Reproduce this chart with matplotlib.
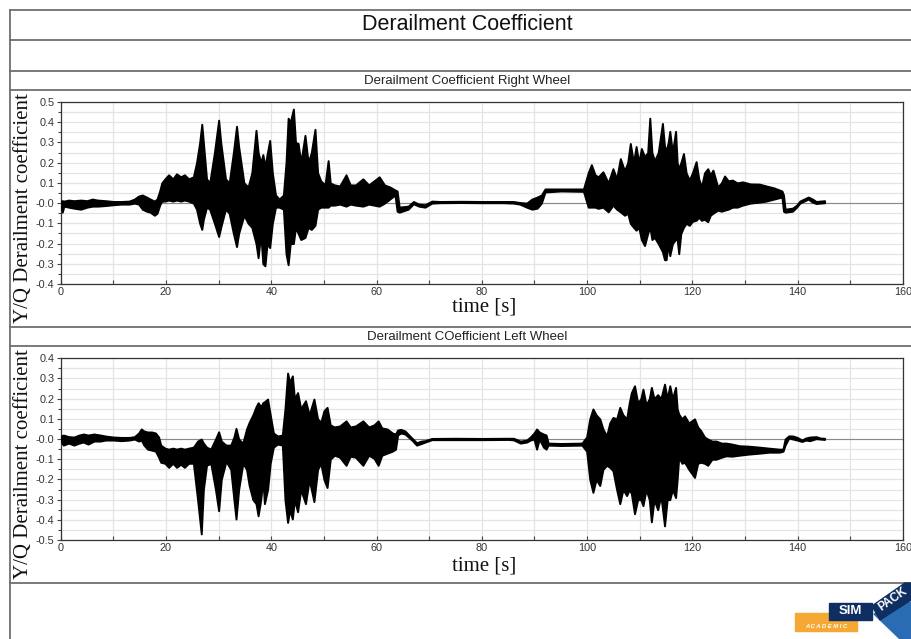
import numpy as np
import matplotlib
matplotlib.use("Agg")
import matplotlib.pyplot as plt
from matplotlib.patches import Rectangle, Polygon

plt.rcParams['axes.unicode_minus'] = False

# envelope of the right wheel signal (time, upper, lower)
t_right = [0.0, 0.3, 0.6, 1.5, 2.5, 3.8, 5.0, 6.0, 7.0, 8.5, 10.0, 11.5, 13.0, 14.0, 14.8,
           15.5, 16.3, 17.0, 17.8, 18.3, 18.8, 19.2, 19.8, 20.5, 21.3, 22.0, 22.8, 23.5, 24.3,
           25.2, 25.8, 26.4, 26.8, 27.1, 27.7, 28.3, 29.2, 30.0, 30.4, 31.3, 32.0, 32.8, 33.4,
           33.8, 34.8, 35.6, 36.3, 37.1, 37.5, 38.0, 38.4, 38.8, 39.2, 39.7, 40.2, 40.8, 41.5,
           42.3, 42.8, 43.2, 43.6, 44.2, 44.6, 45.1, 45.6, 46.4, 47.0, 47.6, 48.3, 48.8, 49.4,
           50.2, 50.8, 51.2, 52.0, 53.0, 54.2, 55.0, 56.0, 57.4, 58.5, 59.5, 60.5, 61.5, 62.5,
           63.5, 63.9, 64.3, 66.0, 67.0, 68.0, 69.2, 70.5, 72.0, 76.0, 80.0, 84.0, 86.0, 87.2,
           88.5, 89.5, 90.5, 91.3, 92.0, 95.0, 99.3, 100.2, 100.8, 101.5, 102.1, 103.0, 104.0,
           104.9, 105.6, 106.3, 107.1, 107.7, 108.2, 108.8, 109.3, 109.8, 110.3, 110.9, 111.5,
           111.9, 112.3, 112.8, 113.5, 114.3, 114.7, 115.0, 115.4, 115.7, 116.2, 116.8, 117.1,
           117.4, 117.8, 118.3, 118.8, 119.4, 120.0, 120.7, 121.2, 121.7, 122.3, 122.9, 123.4,
           123.9, 124.8, 125.5, 126.1, 126.8, 127.6, 128.5, 129.5, 131.0, 132.7, 134.0, 135.5,
           137.0, 137.3, 137.6, 139.0, 139.8, 140.4, 141.2, 142.0, 142.8, 143.5, 144.3, 145.1]
up_right = [0.01, 0.012, 0.01, 0.015, 0.012, 0.015, 0.012, 0.02, 0.015, 0.012, 0.008, 0.008,
            0.01, 0.02, 0.035, 0.04, 0.03, 0.02, 0.01, 0.02, 0.06, 0.1, 0.12, 0.14, 0.12, 0.145,
            0.13, 0.14, 0.12, 0.13, 0.2, 0.3, 0.39, 0.3, 0.12, 0.1, 0.25, 0.41, 0.3, 0.12, 0.1,
            0.25, 0.38, 0.28, 0.1, 0.08, 0.15, 0.36, 0.25, 0.2, 0.24, 0.18, 0.24, 0.31, 0.15,
            0.04, 0.02, 0.04, 0.2, 0.42, 0.4, 0.465, 0.3, 0.295, 0.2, 0.335, 0.2, 0.25, 0.365,
            0.15, 0.11, 0.09, 0.21, 0.1, 0.09, 0.085, 0.14, 0.09, 0.09, 0.12, 0.09, 0.11, 0.13,
            0.09, 0.08, 0.065, 0.06, -0.02, -0.015, 0.008, -0.005, -0.008, 0.01, 0.008, 0.009,
            0.008, 0.008, 0.008, 0.003, 0.0, 0.02, 0.03, 0.04, 0.07, 0.07, 0.07, 0.15, 0.19,
            0.14, 0.13, 0.155, 0.1, 0.17, 0.12, 0.22, 0.16, 0.2, 0.295, 0.2, 0.28, 0.2, 0.27,
            0.23, 0.25, 0.42, 0.25, 0.21, 0.25, 0.394, 0.28, 0.26, 0.3, 0.355, 0.25, 0.355, 0.2,
            0.17, 0.2, 0.245, 0.15, 0.114, 0.15, 0.205, 0.12, 0.08, 0.15, 0.17, 0.14, 0.163,
            0.08, 0.1, 0.134, 0.11, 0.114, 0.1, 0.105, 0.095, 0.094, 0.085, 0.075, 0.06, 0.04,
            -0.03, -0.025, -0.01, 0.01, 0.02, 0.03, 0.02, 0.008, 0.01, 0.012]
lo_right = [-0.01, -0.045, -0.015, -0.02, -0.025, -0.03, -0.02, -0.015, -0.015, -0.012,
            -0.008, -0.005, -0.005, 0.0, -0.005, -0.03, -0.04, -0.045, -0.06, -0.05, -0.01,
            0.01, 0.01, 0.015, 0.01, 0.015, 0.01, 0.015, 0.01, 0.0, -0.03, -0.1, -0.13, -0.08,
            -0.02, -0.03, -0.1, -0.165, -0.12, -0.03, -0.05, -0.15, -0.215, -0.15, -0.06, -0.1,
            -0.12, -0.2, -0.27, -0.15, -0.3, -0.31, -0.2, -0.22, -0.1, -0.02, -0.02, -0.03,
            -0.25, -0.305, -0.2, -0.2, -0.12, -0.15, -0.18, -0.17, -0.12, -0.13, -0.11, -0.03,
            -0.02, -0.02, -0.02, -0.01, -0.01, -0.005, -0.015, -0.005, -0.01, -0.015, -0.005,
            -0.01, -0.015, 0.0, 0.02, 0.04, -0.04, -0.045, -0.03, -0.003, -0.015, -0.02, 0.0,
            0.002, 0.003, 0.002, 0.002, 0.0, -0.005, -0.02, -0.03, -0.025, 0.0, 0.055, 0.06,
            0.058, -0.02, -0.02, -0.02, -0.026, -0.02, -0.043, -0.01, -0.03, -0.043, -0.06,
            -0.05, -0.1, -0.12, -0.134, -0.12, -0.18, -0.21, -0.15, -0.117, -0.18, -0.17, -0.2,
            -0.24, -0.28, -0.28, -0.2, -0.26, -0.2, -0.18, -0.18, -0.25, -0.15, -0.12, -0.1,
            -0.11, -0.09, -0.085, -0.07, -0.085, -0.08, -0.092, -0.06, -0.05, -0.035, -0.04,
            -0.035, -0.03, -0.02, -0.02, -0.01, 0.0, 0.005, 0.01, 0.02, 0.03, -0.04, -0.045,
            -0.04, -0.02, 0.0, 0.01, 0.02, 0.005, -0.002, 0.0, 0.002]

# envelope of the left wheel signal
t_left = [0.0, 0.5, 1.5, 2.5, 3.5, 4.3, 5.2, 6.3, 7.5, 8.5, 10.0, 11.5, 13.0, 14.0, 14.8, 15.3,
          15.8, 16.5, 17.3, 18.0, 18.6, 19.0, 19.8, 20.5, 21.3, 22.0, 22.8, 23.5, 24.3, 25.2,
          26.0, 26.7, 27.1, 27.7, 28.5, 29.4, 30.0, 30.5, 31.4, 32.3, 32.9, 33.3, 33.8, 34.6,
          35.3, 35.8, 36.5, 37.1, 37.5, 38.0, 38.4, 38.7, 39.3, 39.8, 40.4, 41.2, 42.1, 42.6,
          43.1, 43.5, 44.0, 44.4, 45.0, 45.6, 46.5, 47.2, 48.1, 48.8, 49.4, 50.0, 50.6, 51.2,
          52.0, 53.0, 54.2, 55.0, 56.0, 57.4, 58.5, 59.5, 60.3, 61.0, 62.0, 63.0, 63.6, 64.0,
          64.6, 65.4, 66.7, 67.6, 68.5, 69.2, 70.5, 75.0, 80.0, 85.0, 86.0, 87.3, 88.5, 89.2,
          89.9, 90.4, 90.9, 91.7, 92.2, 92.6, 95.0, 99.0, 99.9, 100.5, 101.1, 101.7, 102.4,
          103.0, 103.7, 104.3, 104.9, 105.6, 106.2, 106.8, 107.5, 108.0, 108.4, 109.0, 109.6,
          110.2, 110.6, 111.2, 111.8, 112.2, 112.7, 113.4, 114.0, 114.7, 115.2, 115.7, 116.2,
          116.8, 117.1, 117.4, 118.0, 118.5, 119.3, 120.4, 121.0, 121.6, 122.3, 122.9, 123.7,
          124.5, 125.5, 126.4, 127.5, 128.9, 130.5, 132.7, 134.5, 136.5, 137.2, 137.6, 138.3,
          139.1, 139.9, 140.8, 141.5, 142.3, 143.5, 144.3, 145.1]
up_left = [0.015, 0.02, 0.012, 0.01, 0.02, 0.025, 0.02, 0.025, 0.02, 0.015, 0.01, 0.008, 0.008,
           0.012, 0.03, 0.05, 0.04, 0.035, 0.035, 0.03, 0.01, -0.03, -0.045, -0.05, -0.045,
           -0.05, -0.045, -0.05, -0.045, -0.04, -0.01, 0.0, -0.02, -0.04, -0.05, 0.0, 0.036,
           -0.01, -0.03, -0.03, 0.01, 0.053, 0.0, -0.02, 0.05, 0.083, 0.12, 0.16, 0.18, 0.16,
           0.18, 0.185, 0.198, 0.12, 0.03, 0.015, 0.02, 0.15, 0.327, 0.28, 0.313, 0.2, 0.23,
           0.15, 0.19, 0.12, 0.198, 0.1, 0.083, 0.14, 0.157, 0.07, 0.06, 0.065, 0.09, 0.06,
           0.065, 0.09, 0.06, 0.07, 0.09, 0.055, 0.05, 0.03, 0.025, 0.045, 0.048, 0.04, 0.005,
           -0.018, -0.01, -0.008, 0.003, 0.004, 0.003, 0.004, 0.004, -0.01, -0.005, 0.01, 0.03,
           0.05, 0.035, 0.025, 0.02, -0.02, -0.022, -0.02, 0.01, 0.1, 0.149, 0.12, 0.1, 0.05,
           0.016, 0.08, 0.107, 0.1, 0.157, 0.12, 0.1, 0.18, 0.23, 0.264, 0.18, 0.2, 0.247, 0.17,
           0.2, 0.256, 0.2, 0.22, 0.2, 0.272, 0.2, 0.264, 0.2, 0.256, 0.15, 0.124, 0.1, 0.115,
           0.08, 0.1, 0.06, 0.041, 0.01, 0.0, -0.01, -0.01, -0.02, -0.02, -0.025, -0.033,
           -0.035, -0.04, -0.045, -0.05, -0.05, 0.0, 0.016, 0.015, 0.008, -0.005, 0.005, 0.01,
           0.012, 0.005, 0.004]
lo_left = [-0.01, -0.03, -0.02, -0.03, -0.02, -0.015, -0.025, -0.01, -0.01, -0.005, -0.005,
           -0.008, -0.005, 0.0, -0.01, -0.005, -0.03, -0.05, -0.055, -0.06, -0.09, -0.115,
           -0.12, -0.14, -0.12, -0.14, -0.125, -0.14, -0.12, -0.12, -0.3, -0.47, -0.25, -0.13,
           -0.12, -0.25, -0.355, -0.2, -0.11, -0.15, -0.3, -0.396, -0.25, -0.12, -0.15, -0.23,
           -0.3, -0.32, -0.38, -0.3, -0.2, -0.32, -0.25, -0.12, -0.04, -0.025, -0.03, -0.3,
           -0.413, -0.35, -0.396, -0.3, -0.36, -0.25, -0.32, -0.2, -0.31, -0.15, -0.12, -0.2,
           -0.24, -0.1, -0.08, -0.09, -0.13, -0.085, -0.09, -0.13, -0.08, -0.095, -0.13, -0.08,
           -0.07, -0.06, -0.05, 0.02, 0.03, 0.025, -0.005, -0.03, -0.022, -0.015, -0.003,
           -0.003, -0.003, -0.002, -0.004, -0.02, -0.015, -0.005, 0.0, -0.05, 0.0, -0.04, -0.05,
           -0.03, -0.032, -0.03, -0.06, -0.2, -0.264, -0.2, -0.23, -0.15, -0.13, -0.14, -0.157,
           -0.25, -0.32, -0.25, -0.28, -0.25, -0.27, -0.37, -0.3, -0.3, -0.33, -0.25, -0.3,
           -0.41, -0.3, -0.35, -0.28, -0.43, -0.3, -0.3, -0.25, -0.29, -0.2, -0.09, -0.12,
           -0.115, -0.15, -0.19, -0.12, -0.115, -0.12, -0.13, -0.1, -0.1, -0.09, -0.083, -0.085,
           -0.08, -0.075, -0.07, -0.065, -0.065, -0.06, -0.03, 0.005, 0.0, -0.005, -0.012,
           -0.005, -0.008, 0.002, 0.0, -0.002]

W, H = 911, 639
fig = plt.figure(figsize=(W / 100, H / 100), dpi=100)

# page frame / header boxes drawn in pixel coordinates
deco = fig.add_axes([0, 0, 1, 1], zorder=0)
deco.set_xlim(0, W)
deco.set_ylim(H, 0)
deco.axis('off')
frame_col = '#6e6e6e'
for yy in [10, 40, 71, 90, 327, 346, 583]:
    deco.plot([10, W], [yy, yy], color=frame_col, lw=1.3)
deco.plot([10, 10], [10, H], color=frame_col, lw=1.3)

sans = 'Liberation Sans'
serif = 'Liberation Serif'
deco.text(467, 25, 'Derailment Coefficient', ha='center', va='center',
          fontsize=15.5, family=sans, color='#111111')
deco.text(467, 81, 'Derailment Coefficient Right Wheel', ha='center', va='center',
          fontsize=9.5, family=sans, color='#222222')
deco.text(467, 336.5, 'Derailment COefficient Left Wheel', ha='center', va='center',
          fontsize=9.5, family=sans, color='#222222')

# axis labels (serif, like the original export)
for yc in [208, 464]:
    deco.text(24, yc, 'Y/Q Derailment coefficient', ha='center', va='center',
              rotation=90, fontsize=15, family=serif, color='#111111')
for yc in [307, 566]:
    deco.text(484, yc, 'time [s]', ha='center', va='center',
              fontsize=15, family=serif, color='#111111')

# SIMPACK academic logo
deco.add_patch(Rectangle((795, 613), 62, 18, color='#f5a833', zorder=3))
deco.text(826, 626, 'A C A D E M I C', ha='center', va='center', fontsize=4.2,
          color='white', fontweight='bold', style='italic', family=sans, zorder=4)
deco.add_patch(Rectangle((829, 603), 43, 17, color='#0f2f63', zorder=4))
deco.text(850.5, 611.5, 'SIM', ha='center', va='center', fontsize=9.5, color='white',
          fontweight='bold', family=sans, zorder=5)
deco.add_patch(Polygon([(874, 614), (911, 602), (911, 639), (900, 639)], closed=True,
                       color='#2a6cb3', zorder=3))
deco.add_patch(Polygon([(872, 606), (905, 583), (911, 583), (911, 600), (880, 620)],
                       closed=True, color='#0f2f63', zorder=4))
deco.text(893, 599, 'PACK', ha='center', va='center', fontsize=8.5, color='white',
          fontweight='bold', family=sans, rotation=35, zorder=5)


def panel(rect, t, up, lo, ylo, yhi):
    ax = fig.add_axes(rect, zorder=2)
    ax.set_facecolor('white')
    ax.fill_between(t, lo, up, color='black', lw=1.4, zorder=3)
    ax.axhline(0, color='#8a8a8a', lw=0.8, zorder=2)
    ax.set_xlim(0, 160)
    ax.set_ylim(ylo, yhi)
    ax.set_xticks(np.arange(0, 161, 20))
    ax.set_xticks(np.arange(0, 161, 10), minor=True)
    ax.set_yticks(np.arange(ylo, yhi + 0.001, 0.1))
    ax.set_yticks(np.arange(ylo, yhi + 0.001, 0.05), minor=True)
    ax.yaxis.set_major_formatter(matplotlib.ticker.FormatStrFormatter('%.1f'))
    ax.grid(True, which='both', color='#e4e4e4', lw=0.9, zorder=0)
    ax.set_axisbelow(True)
    ax.tick_params(axis='both', which='both', labelsize=7.8, labelcolor='#333333',
                   color='#444444', width=0.8)
    ax.tick_params(axis='x', which='both', direction='in', length=3, pad=2)
    ax.tick_params(axis='y', which='major', direction='out', length=3, pad=1.5)
    ax.tick_params(axis='y', which='minor', direction='out', length=2)
    for lab in ax.get_xticklabels() + ax.get_yticklabels():
        lab.set_family(sans)
    for sp in ax.spines.values():
        sp.set_color('#333333')
        sp.set_linewidth(0.9)
    return ax


x0 = 60.7
x1 = 903.0
panel([x0 / W, 1 - 284 / H, (x1 - x0) / W, (284 - 102) / H],
      t_right, up_right, lo_right, -0.4, 0.5)
panel([x0 / W, 1 - 540 / H, (x1 - x0) / W, (540 - 358.3) / H],
      t_left, up_left, lo_left, -0.5, 0.4)

fig.savefig('out.png', dpi=100)
